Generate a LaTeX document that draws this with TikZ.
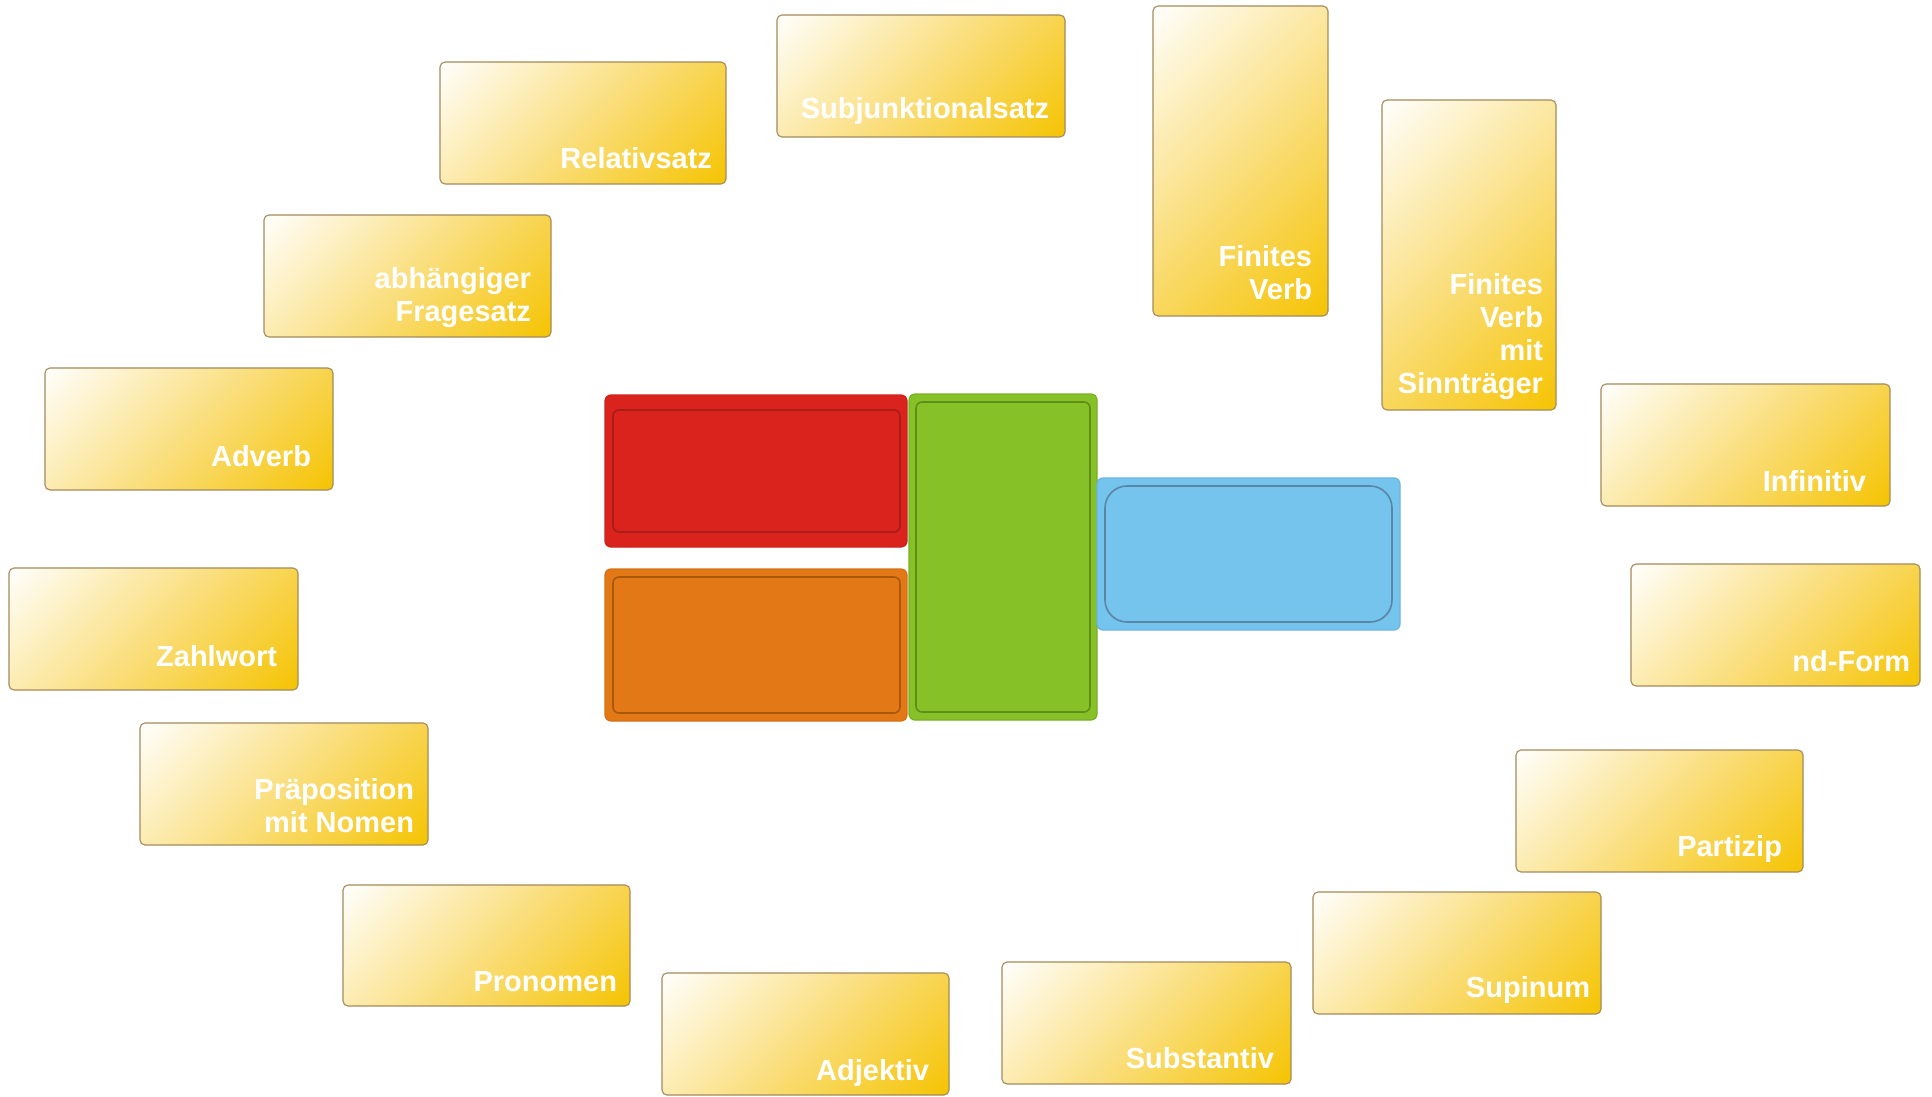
\documentclass[tikz,border=0pt]{standalone}
\usepackage{fontspec}
\setmainfont{Liberation Sans}
\usetikzlibrary{calc}
\definecolor{ywA}{HTML}{FFFFFF}
\definecolor{ywB}{HTML}{FDF1C6}
\definecolor{ywC}{HTML}{FADF80}
\definecolor{ywD}{HTML}{F5C300}
\definecolor{yborder}{HTML}{A38B5C}
\definecolor{redF}{HTML}{D9231C}
\definecolor{redO}{HTML}{CD221B}
\definecolor{redI}{HTML}{A81D17}
\definecolor{orgF}{HTML}{E37817}
\definecolor{orgO}{HTML}{D66F14}
\definecolor{orgI}{HTML}{A9590F}
\definecolor{grnF}{HTML}{86C127}
\definecolor{grnO}{HTML}{79B023}
\definecolor{grnI}{HTML}{5F8F1B}
\definecolor{bluF}{HTML}{75C4EE}
\definecolor{bluO}{HTML}{6DB4DE}
\definecolor{bluI}{HTML}{5A86A6}
\pgfdeclarehorizontalshading{ygrad}{100bp}{color(0bp)=(ywA); color(14bp)=(ywA); color(30bp)=(ywB); color(50bp)=(ywC); color(86bp)=(ywD); color(100bp)=(ywD)}
\tikzset{
  ybox/.style={shape=rectangle, rounded corners=5pt, draw=yborder, line width=1.1pt,
    shading=ygrad, shading angle=-45, inner sep=0pt, outer sep=0pt, anchor=north west},
  ytext/.style={text=white, font=\bfseries\fontsize{29}{32.7}\selectfont, align=right,
    inner sep=0pt, outer sep=0pt, text depth=0pt, anchor=south east},
  cbox/.style={shape=rectangle, rounded corners=6pt, line width=1.2pt, inner sep=0pt,
    outer sep=0pt, anchor=north west},
  cin/.style={line width=1.6pt, rounded corners=6pt},
}
\newcommand\ybx[8]{%
  \node[ybox, minimum width={#4-#2}, minimum height={#5-#3}] (#1) at (#2,#3) {};
  \node[ytext] (#1t) at ([shift={(-#7,-#8)}]#1.south east) {#6};
}
\begin{document}
\begin{tikzpicture}[x=1pt,y=-1pt]
\fill[white] (0,0) rectangle (1932,1097);
\useasboundingbox (0,0) rectangle (1932,1097);
% yellow boxes
\ybx{subj}{777}{15}{1065}{137}{Subjunktionalsatz}{16}{18}
\ybx{rel}{440}{62}{726}{184}{Relativsatz}{14}{16}
\ybx{frage}{264}{215}{551}{337}{abhängiger\\Fragesatz}{20}{16}
\ybx{adv}{45}{368}{333}{490}{Adverb}{22}{24}
\ybx{zahl}{9}{568}{298}{690}{Zahlwort}{21}{24}
\ybx{prae}{140}{723}{428}{845}{Präposition\\mit Nomen}{14}{13}
\ybx{pron}{343}{885}{630}{1006}{Pronomen}{13}{15}
\ybx{adj}{662}{973}{949}{1095}{Adjektiv}{20}{15}
\ybx{subst}{1002}{962}{1291}{1084}{Substantiv}{17}{16}
\ybx{sup}{1313}{892}{1601}{1014}{Supinum}{11}{17}
\ybx{part}{1516}{750}{1803}{872}{Partizip}{21}{16}
\ybx{ndf}{1631}{564}{1920}{686}{nd-Form}{10}{15}
\ybx{inf}{1601}{384}{1890}{506}{Infinitiv}{24}{15}
\ybx{fin}{1153}{6}{1328}{316}{Finites\\Verb}{16}{17}
\ybx{finS}{1382}{100}{1556}{410}{Finites\\Verb\\mit\\Sinnträger}{13}{17}
% central boxes
\node[cbox, fill=redF, draw=redO, minimum width=302, minimum height=152] (red) at (605,395) {};
\draw[cin, draw=redI] ([shift={(8,15)}]red.north west) rectangle ([shift={(-7,-15)}]red.south east);
\node[cbox, fill=orgF, draw=orgO, minimum width=302, minimum height=152] (org) at (605,569) {};
\draw[cin, draw=orgI] ([shift={(8,8)}]org.north west) rectangle ([shift={(-7,-8)}]org.south east);
\node[cbox, fill=grnF, draw=grnO, minimum width=188, minimum height=326] (grn) at (909,394) {};
\draw[cin, draw=grnI] ([shift={(7,8)}]grn.north west) rectangle ([shift={(-7,-8)}]grn.south east);
\node[cbox, fill=bluF, draw=bluO, minimum width=303, minimum height=152] (blu) at (1097,478) {};
\draw[cin, draw=bluI, rounded corners=22pt] ([shift={(8,8)}]blu.north west) rectangle ([shift={(-8,-8)}]blu.south east);
\end{tikzpicture}
\end{document}
